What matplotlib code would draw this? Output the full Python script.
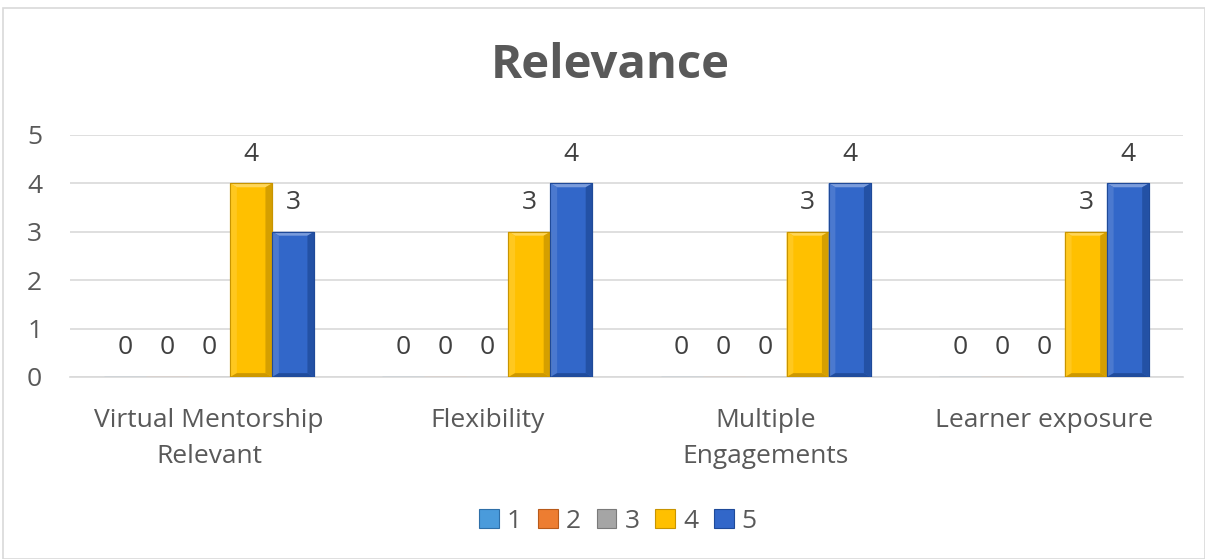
import numpy as np
import matplotlib.pyplot as plt
import matplotlib.colors as mc
from matplotlib.patches import Polygon, Rectangle

plt.rcParams['font.family'] = ['Open Sans', 'DejaVu Sans']

categories = ["Virtual Mentorship\nRelevant", "Flexibility", "Multiple\nEngagements", "Learner exposure"]
series_names = ["1", "2", "3", "4", "5"]
values = [
    [0, 0, 0, 0],   # 1
    [0, 0, 0, 0],   # 2
    [0, 0, 0, 0],   # 3
    [4, 3, 3, 3],   # 4
    [3, 4, 4, 4],   # 5
]
colors = ["#4A9BDB", "#ED7D31", "#A5A5A5", "#FFC000", "#3267C9"]
edge_colors = ["#2E6FA8", "#B85A1A", "#7A7A7A", "#C89400", "#1F4A99"]

text_col = "#595959"

fig = plt.figure(figsize=(12.05, 5.59), dpi=100)
ax = fig.add_axes([70 / 1205, 1 - 377 / 559, 1113 / 1205, (377 - 135) / 559])

x = np.arange(len(categories))
w = 0.151


def lighten(c, f):
    r, g, b = mc.to_rgb(c)
    return (r + (1 - r) * f, g + (1 - g) * f, b + (1 - b) * f)


def bevel(ax, bar, face, edge):
    x0, y0 = bar.get_x(), bar.get_y()
    bw, bh = bar.get_width(), bar.get_height()
    if bh <= 0:
        return
    dx = bw * 0.16
    dy = 0.08
    # top light band
    ax.add_patch(Polygon([(x0, y0 + bh), (x0 + bw, y0 + bh), (x0 + bw - dx, y0 + bh - dy), (x0 + dx, y0 + bh - dy)],
                         closed=True, facecolor=lighten(face, 0.35), edgecolor='none', zorder=4))
    # left band
    ax.add_patch(Polygon([(x0, y0), (x0 + dx, y0 + dy), (x0 + dx, y0 + bh - dy), (x0, y0 + bh)],
                         closed=True, facecolor=lighten(face, 0.12), edgecolor='none', zorder=4))
    # right shadow band
    ax.add_patch(Polygon([(x0 + bw, y0), (x0 + bw, y0 + bh), (x0 + bw - dx, y0 + bh - dy), (x0 + bw - dx, y0 + dy)],
                         closed=True, facecolor=edge, edgecolor='none', alpha=0.75, zorder=4))
    # bottom shadow band
    ax.add_patch(Polygon([(x0, y0), (x0 + bw, y0), (x0 + bw - dx, y0 + dy), (x0 + dx, y0 + dy)],
                         closed=True, facecolor=edge, edgecolor='none', alpha=0.9, zorder=4))
    ax.add_patch(Rectangle((x0, y0), bw, bh, facecolor='none', edgecolor=edge, linewidth=0.8, zorder=5))


for i, (name, vals) in enumerate(zip(series_names, values)):
    pos = x + (i - 2) * w
    bars = ax.bar(pos, vals, width=w, color=colors[i], edgecolor=edge_colors[i], linewidth=0.8,
                  zorder=3, label=name)
    for b, v in zip(bars, vals):
        bevel(ax, b, colors[i], edge_colors[i])
        ax.text(b.get_x() + b.get_width() / 2, v + 0.6, str(v), ha='center', va='center',
                fontsize=19, color="#404040", zorder=6)

ax.set_xlim(-0.5, len(categories) - 0.5)
ax.set_ylim(0, 5)
ax.set_yticks(range(6))
ax.yaxis.grid(True, color="#D9D9D9", linewidth=1.2, zorder=0)
ax.set_axisbelow(True)
for s in ['top', 'right', 'left']:
    ax.spines[s].set_visible(False)
ax.spines['bottom'].set_color("#D9D9D9")
ax.spines['bottom'].set_linewidth(1.2)
ax.tick_params(axis='both', length=0, labelsize=19, colors=text_col)
ax.tick_params(axis='x', pad=22)
ax.tick_params(axis='y', pad=20)
ax.set_xticks(x)
ax.set_xticklabels(categories, linespacing=1.6)

fig.text(610 / 1205, 1 - 66 / 559, "Relevance", ha='center', va='center', fontsize=34,
         fontweight='bold', color=text_col)

leg = fig.legend(loc='center', bbox_to_anchor=(618 / 1205, 1 - 521 / 559), ncol=5, frameon=False,
                 fontsize=19, handlelength=0.75, handleheight=0.75, handletextpad=0.3, columnspacing=0.6,
                 labelcolor=text_col)

# chart border
fig.add_artist(Rectangle((3 / 1205, 0), 1 - 3 / 1205, 1 - 8 / 559, transform=fig.transFigure,
                         facecolor='none', edgecolor="#D9D9D9", linewidth=1.2))

fig.savefig("out.png", dpi=100)
